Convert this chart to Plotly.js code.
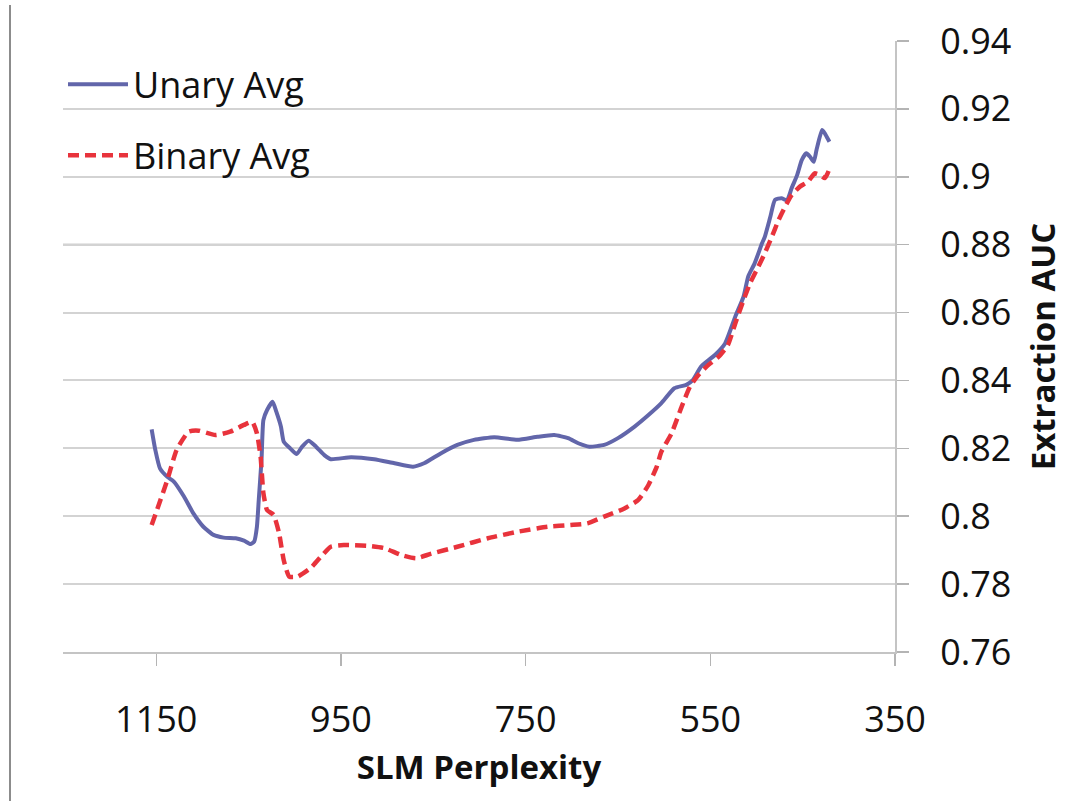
<!DOCTYPE html>
<html>
<head>
<meta charset="utf-8">
<script src="https://cdn.plot.ly/plotly-3.0.1.min.js"></script>
<style>
  html, body { margin: 0; padding: 0; background: #fff; }
  #chart { width: 1066px; height: 801px; position: relative; }
  #border { position: absolute; left: 9px; top: 5px; width: 2px; height: 796px; background: #8c8c8c; z-index: 10; }
</style>
</head>
<body>
<div id="border"></div>
<div id="chart"></div>
<script>
// SLM perplexity (x) vs Extraction AUC (y)
const unaryX = [1155, 1151, 1146, 1138, 1131, 1120, 1110, 1099, 1088, 1077, 1064, 1055, 1048, 1044, 1041, 1039, 1036, 1034, 1030, 1024, 1020, 1015, 1012, 1005, 998, 992, 985, 977, 968, 961, 939, 914, 892, 872, 860, 842, 824, 806, 784, 759, 737, 719, 704, 693, 681, 665, 650, 632, 617, 603, 589, 576, 569, 560, 545, 534, 523, 514, 509, 502, 494, 491, 485, 480, 473, 467, 462, 456, 451, 446, 442, 438, 435, 429, 426, 424, 421];
const unaryY = [0.8256, 0.8195, 0.8141, 0.8116, 0.8102, 0.8058, 0.8009, 0.7969, 0.7945, 0.7937, 0.7935, 0.7928, 0.7918, 0.7925, 0.7969, 0.8048, 0.8166, 0.8283, 0.8313, 0.8337, 0.8308, 0.8264, 0.8220, 0.8200, 0.8183, 0.8205, 0.8222, 0.8205, 0.8180, 0.8168, 0.8174, 0.8168, 0.8156, 0.8146, 0.8156, 0.8185, 0.8210, 0.8225, 0.8233, 0.8225, 0.8234, 0.8239, 0.8230, 0.8215, 0.8205, 0.8210, 0.8230, 0.8264, 0.8298, 0.8333, 0.8377, 0.8387, 0.8401, 0.8441, 0.8475, 0.8509, 0.8588, 0.8647, 0.8706, 0.8745, 0.8804, 0.8823, 0.8882, 0.8932, 0.8937, 0.8930, 0.8966, 0.9005, 0.9049, 0.9069, 0.9059, 0.9044, 0.9079, 0.9138, 0.9128, 0.9118, 0.9103];

const binaryX = [1155, 1148, 1138, 1128, 1115, 1104, 1086, 1070, 1055, 1046, 1041, 1037, 1034, 1030, 1023, 1017, 1012, 1006, 997, 983, 970, 961, 947, 921, 903, 885, 869, 853, 824, 791, 759, 726, 701, 683, 665, 643, 628, 617, 608, 603, 592, 581, 572, 563, 552, 541, 531, 523, 514, 507, 498, 491, 484, 476, 469, 462, 453, 444, 437, 431, 426, 423, 420];
const binaryY = [0.7974, 0.8028, 0.8107, 0.8195, 0.8249, 0.8252, 0.8239, 0.8249, 0.8269, 0.8278, 0.8244, 0.8175, 0.8068, 0.8018, 0.8004, 0.7950, 0.7871, 0.7822, 0.7822, 0.7847, 0.7886, 0.7910, 0.7915, 0.7913, 0.7906, 0.7886, 0.7876, 0.7889, 0.7910, 0.7935, 0.7954, 0.7969, 0.7974, 0.7979, 0.7999, 0.8023, 0.8048, 0.8092, 0.8146, 0.8190, 0.8244, 0.8323, 0.8382, 0.8416, 0.8446, 0.8470, 0.8504, 0.8568, 0.8637, 0.8686, 0.8735, 0.8775, 0.8819, 0.8873, 0.8912, 0.8946, 0.8971, 0.8986, 0.9010, 0.9005, 0.8996, 0.9010, 0.9030];

const xTicks = [1150, 950, 750, 550, 350];
const yTicks = [0.76, 0.78, 0.8, 0.82, 0.84, 0.86, 0.88, 0.9, 0.92, 0.94];
const yTickText = ['0.76', '0.78', '0.8', '0.82', '0.84', '0.86', '0.88', '0.9', '0.92', '0.94'];

const FONT = '"Open Sans", "Noto Sans", sans-serif';

const traces = [
  {
    x: unaryX, y: unaryY, name: 'Unary Avg', type: 'scatter', mode: 'lines',
    legendgroup: 'u',
    line: { color: '#6266aa', width: 4, shape: 'spline', smoothing: 0.5 }
  },
  {
    x: binaryX, y: binaryY, name: 'Binary Avg', type: 'scatter', mode: 'lines',
    legendgroup: 'b',
    line: { color: '#e8333c', width: 4.5, dash: '11px,6px', shape: 'spline', smoothing: 0.5 }
  }
];

const layout = {
  width: 1066, height: 801,
  margin: { l: 63, r: 171, t: 41, b: 149, pad: 0 },
  paper_bgcolor: '#ffffff', plot_bgcolor: '#ffffff',
  font: { family: FONT, size: 36, color: '#111' },
  showlegend: true,
  legend: {
    x: 0.0, y: 0.978, xanchor: 'left', yanchor: 'top',
    bgcolor: 'rgba(255,255,255,0)',
    font: { family: FONT, size: 36, color: '#111' },
    tracegroupgap: 21,
    itemwidth: 60
  },
  xaxis: {
    range: [1251, 350], autorange: false,
    tickmode: 'array', tickvals: xTicks, ticktext: xTicks.map(String),
    showgrid: false, zeroline: false,
    showline: true, linecolor: '#c4c4c4', linewidth: 2,
    ticks: 'outside', ticklen: 12, tickwidth: 1.5, tickcolor: '#b4b4b4',
    ticklabelstandoff: 23,
    tickfont: { family: FONT, size: 36, color: '#111' },
    title: { text: 'SLM Perplexity', font: { family: FONT, size: 33, color: '#111', weight: 'bold' }, standoff: 14 }
  },
  yaxis: {
    side: 'right',
    range: [0.76, 0.94], autorange: false,
    tickmode: 'array', tickvals: yTicks, ticktext: yTickText,
    showgrid: true, gridcolor: '#d3d3d3', gridwidth: 2,
    zeroline: false,
    showline: true, linecolor: '#c4c4c4', linewidth: 2,
    ticks: 'outside', ticklen: 12, tickwidth: 1.5, tickcolor: '#b4b4b4',
    ticklabelstandoff: 24,
    tickfont: { family: FONT, size: 36, color: '#111' },
    title: { text: 'Extraction AUC', font: { family: FONT, size: 33, color: '#111', weight: 'bold' }, standoff: 21 }
  },
  shapes: [
    { type: 'line', xref: 'paper', x0: 0, x1: 1, yref: 'y', y0: 0.88, y1: 0.88,
      line: { color: '#a0a0a0', width: 2 }, layer: 'below' }
  ]
};

Plotly.newPlot('chart', traces, layout, { displayModeBar: false, staticPlot: true });
</script>
</body>
</html>
